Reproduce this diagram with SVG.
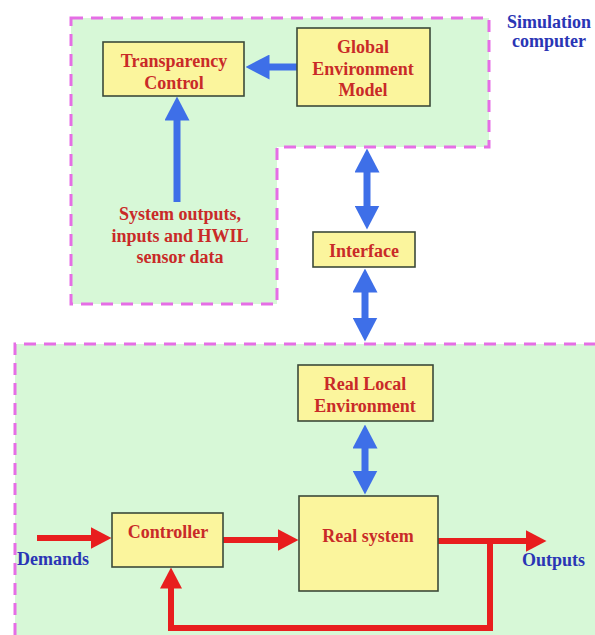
<svg xmlns="http://www.w3.org/2000/svg" width="595" height="635" viewBox="0 0 595 635">
<style>
.zone{fill:#d7f8d7;stroke:none}
.dash{fill:none;stroke:#e56ee5;stroke-width:3;stroke-dasharray:12 8}
.box{fill:#fbf59d;stroke:#3c4a3a;stroke-width:1.6}
.t{font-family:"Liberation Serif","Times New Roman",serif;font-weight:bold;font-size:18px;fill:#c92a28;text-anchor:middle}
.b{font-family:"Liberation Serif","Times New Roman",serif;font-weight:bold;font-size:18px;fill:#2a35b5}
.blue{fill:none;stroke:#3e6fe8;stroke-width:7}
.red{fill:none;stroke:#e81e1e;stroke-width:6}
</style>
<defs>
<marker id="hb" viewBox="0 0 24 25" markerWidth="24" markerHeight="25" refX="0.5" refY="12.5" orient="auto-start-reverse" markerUnits="userSpaceOnUse"><path d="M0,0 L24,12.5 L0,25 Z" fill="#3e6fe8"/></marker>
<marker id="hr" viewBox="0 0 21 22" markerWidth="21" markerHeight="22" refX="0.5" refY="11" orient="auto-start-reverse" markerUnits="userSpaceOnUse"><path d="M0,0 L21,11 L0,22 Z" fill="#e81e1e"/></marker>
</defs>
<rect width="595" height="635" fill="#ffffff"/>
<g id="sim-zone">
<path class="zone" d="M71,18 H489 V147 H277 V304 H71 Z"/>
<path class="dash" d="M71,18 H489 V147 H277 V304 H71 Z"/>
<text class="b" x="507" y="28">Simulation</text>
<text class="b" x="512" y="47">computer</text>
</g>
<g id="real-zone">
<rect class="zone" x="15" y="344" width="580" height="291"/>
<path class="dash" d="M15,635 V344 H595"/>
</g>
<g id="connectors">
<path class="blue" d="M297,67 H269" marker-end="url(#hb)"/>
<path class="blue" d="M177,202 V120" marker-end="url(#hb)"/>
<path class="blue" d="M367,172 V206" marker-start="url(#hb)" marker-end="url(#hb)"/>
<path class="blue" d="M365,292 V318" marker-start="url(#hb)" marker-end="url(#hb)"/>
<path class="blue" d="M365,448 V471" marker-start="url(#hb)" marker-end="url(#hb)"/>
<path class="red" d="M37,538 H91" marker-end="url(#hr)"/>
<path class="red" d="M223,540 H278" marker-end="url(#hr)"/>
<path class="red" d="M438,541 H526" marker-end="url(#hr)"/>
<path class="red" stroke-width="5" d="M490,541 V628 H171 V588" marker-end="url(#hr)"/>
</g>
<g id="transparency-control">
<rect class="box" x="103" y="42" width="141" height="54"/>
<text class="t" x="174" y="67">Transparency</text>
<text class="t" x="174" y="89">Control</text>
</g>
<g id="global-environment-model">
<rect class="box" x="297" y="28" width="133" height="78"/>
<text class="t" x="363" y="53">Global</text>
<text class="t" x="363" y="75">Environment</text>
<text class="t" x="363" y="96">Model</text>
</g>
<g id="system-outputs-label">
<text class="t" x="180" y="220">System outputs,</text>
<text class="t" x="180" y="242">inputs and HWIL</text>
<text class="t" x="180" y="263">sensor data</text>
</g>
<g id="interface">
<rect class="box" x="313" y="232" width="102" height="35"/>
<text class="t" x="364" y="257">Interface</text>
</g>
<g id="real-local-environment">
<rect class="box" x="298" y="365" width="135" height="56"/>
<text class="t" x="365" y="390">Real Local</text>
<text class="t" x="365" y="412">Environment</text>
</g>
<g id="real-system">
<rect class="box" x="299" y="496" width="139" height="95"/>
<text class="t" x="368" y="542">Real system</text>
</g>
<g id="controller">
<rect class="box" x="112" y="513" width="111" height="54"/>
<text class="t" x="168" y="538">Controller</text>
</g>
<g id="io-labels">
<text class="b" x="17" y="565">Demands</text>
<text class="b" x="522" y="566">Outputs</text>
</g>
</svg>
